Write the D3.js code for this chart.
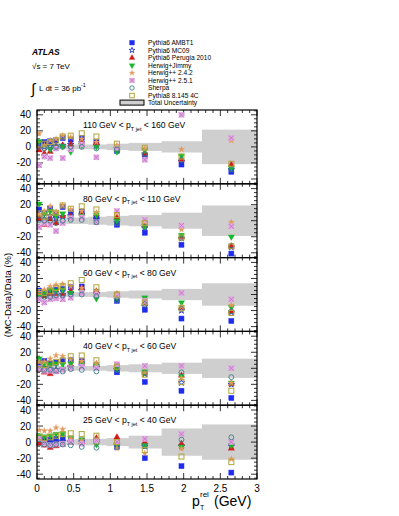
<!DOCTYPE html>
<html lang="en">
  <head>
    <meta charset="UTF-8" />
    <title>(MC-Data)/Data vs pTrel</title>
    <script src="https://d3js.org/d3.v7.min.js"></script>
    <style>
      body { margin: 0; background: #fff; }
      svg { display: block; font-family: "Liberation Sans", Arial, sans-serif; }
    </style>
  </head>
  <body>
    <div id="chart"></div>
    <script>
      // bin centres and edges in pTrel (GeV)
      const xCenters = [0.03, 0.1, 0.18, 0.26, 0.35, 0.46, 0.61, 0.81, 1.09, 1.47, 1.97, 2.65];
      const binEdges = [0, 0.065, 0.14, 0.22, 0.3, 0.4, 0.52, 0.7, 0.95, 1.25, 1.7, 2.25, 3.0];

      // panels, top to bottom
      const panelLabels = [
        ["110 GeV < p", "160 GeV"],
        ["80 GeV < p", "110 GeV"],
        ["60 GeV < p", "80 GeV"],
        ["40 GeV < p", "60 GeV"],
        ["25 GeV < p", "40 GeV"]
      ];

      // total uncertainty half width (%) per bin, per panel
      const bandHalf = [
        [3, 3, 3, 3, 3, 3, 3, 3, 4, 5, 7, 21.5],
        [4, 4, 4, 4, 4, 4, 4, 5, 6, 7, 10, 19],
        [3, 3, 3, 3, 3, 3, 3, 3, 4, 5, 7, 14],
        [3, 3, 3, 3, 3, 3, 3, 3, 4, 5, 7, 12],
        [3, 3, 3, 3, 3, 3, 4, 4, 5, 8, 17, 22]
      ];

      const yTicks = [-40, -20, 0, 20, 40];
      const xTicks = [0, 0.5, 1, 1.5, 2, 2.5, 3];

      // (MC-Data)/Data in %, per panel
      const ambt1 = [
        [5, 6, 7, 8, 11, 9, 11, 6, -5, -12, -22, -31],
        [14, 10, 15, 8, 17, 11, 11, 3, -5, -15, -30, -41],
        [5, 2, 5, 6, 7, 9, 10, 3, -8, -19, -30, -33],
        [7, 9, 6, 7, 9, 10, 9, 3, -5, -17, -28, -37],
        [5, 4, 3, 4, 5, 3, 2, 2, -6, -20, -30, -38]
      ];
      const mc09 = [
        [2, 0, 1, 1, 2, 3, 5, 2, -2, -9, -18, -28],
        [4, 2, 6, 3, 5, 6, 8, 2, -2, -9, -22, -33],
        [0, -2, -2, -1, 0, 2, 5, 1, -6, -15, -20, -22],
        [2, 1, -1, -2, -1, 2, 3, 1, -2, -7, -18, -20],
        [1, 0, -1, 0, 1, 0, 0, 0, -4, -5, -5, -5]
      ];
      const perugia = [
        [-4, -8, -6, 0, 2, 3, 6, 5, -3, -8, -16, -22],
        [3, -5, 2, -3, 6, 5, 9, 8, 4, -6, -20, -32],
        [0, -2, 1, -3, 1, 4, 8, 4, 0, -10, -16, -21],
        [-2, -5, -7, -4, -2, 4, 8, 5, 2, -6, -9, -19],
        [-2, -4, -7, -5, -3, -1, 0, 5, 6, 0, -2, -8]
      ];
      const jimmy = [
        [7, -11, -3, -1, 1, -6, 2, 0, -6, -4, -11, -26],
        [21, 9, 12, 6, 9, 4, 6, 7, 0, -7, -18, -20],
        [-2, 1, 6, 5, 6, 2, 3, -5, -4, -4, -10, -16],
        [12, 6, 5, 6, 5, 6, 6, 3, 0, -4, -10, -18],
        [8, 7, 8, 10, 10, 5, 3, -3, -3, -4, -6, -4]
      ];
      const herwig242 = [
        [17, 2, 8, 10, 14, 12, 10, 6, 2, -2, -3, 8],
        [8, 12, 18, 11, 19, 14, 12, 10, 9, -2, -11, -2],
        [3, 6, 10, 12, 13, 10, 8, 4, 1, -8, -15, -13],
        [8, 8, 12, 16, 15, 11, 9, 6, 5, -5, -12, -18],
        [15, 14, 14, 18, 16, 4, 2, 0, -8, -14, -8, -21]
      ];
      const herwig251 = [
        [-23, -12, -14, -2, -14, -3, 3, -13, -1, -16, 40, 11],
        [-8, -3, -5, -13, -3, 3, 4, -2, 12, 1, -6, -7],
        [-6, -10, -6, -5, -6, -4, 2, 0, -2, -8, 2, -6],
        [0, -3, -3, -4, -2, 0, 2, 0, 5, 3, 3, 0],
        [4, -2, -4, -3, -2, 0, -2, 2, 0, 4, 10, 0]
      ];
      const sherpa = [
        [0, -2, -1, 0, 0, 0, 0, -2, -3, -9, -16, -28],
        [1, 0, 0, -3, 0, 1, 1, -2, -3, -8, -22, -31],
        [0, -3, -3, -1, -1, 0, 0, -2, -7, -12, -18, -21],
        [-1, -2, -2, -3, -4, -1, -2, -4, -2, -6, -5, -11],
        [-2, -3, -4, -3, -3, -4, -6, -7, -6, -5, 3, 6]
      ];
      const pythia8 = [
        [3, 4, 6, 8, 13, 14, 17, 13, 4, -1, -12, -21],
        [9, 5, 10, 10, 19, 15, 18, 14, 7, -3, -21, -32],
        [3, 2, 4, 8, 10, 14, 18, 9, 0, -10, -17, -23],
        [5, 4, 6, 8, 10, 15, 16, 10, 2, -8, -17, -28],
        [6, 5, 6, 8, 10, 11, 10, 8, 0, -10, -18, -25]
      ];

      const seriesNames = [
        "Pythia6 AMBT1", "Pythia6 MC09", "Pythia6 Perugia 2010", "Herwig+Jimmy",
        "Herwig++ 2.4.2", "Herwig++ 2.5.1", "Sherpa", "Pythia8 8.145 4C"
      ];
      const seriesValues = [ambt1, mc09, perugia, jimmy, herwig242, herwig251, sherpa, pythia8];
      const seriesStyle = [
        { shape: "square", color: "#1f2cf0", fill: true },
        { shape: "star", color: "#2636c8", fill: false },
        { shape: "triUp", color: "#d41b1b", fill: true },
        { shape: "triDown", color: "#16b82a", fill: true },
        { shape: "star", color: "#e39a5e", fill: true },
        { shape: "xsquare", color: "#e2a8e2", fill: true },
        { shape: "circle", color: "#3f7f86", fill: false },
        { shape: "square", color: "#b2a43a", fill: false }
      ];

      const W = 399, H = 516;
      const plotL = 37, plotR = 257, plotT = 110, plotB = 479;
      const panelH = (plotB - plotT) / panelLabels.length;

      const svg = d3.select("#chart").append("svg")
        .attr("width", W).attr("height", H);

      const x = d3.scaleLinear().domain([0, 3]).range([plotL, plotR]);

      // draw one marker
      function marker(g, style, cx, cy, size) {
        const s = size;
        if (style.shape === "square" || style.shape === "xsquare") {
          g.append("rect")
            .attr("x", cx - s / 2).attr("y", cy - s / 2)
            .attr("width", s).attr("height", s)
            .attr("fill", style.fill ? style.color : "none")
            .attr("stroke", style.color)
            .attr("stroke-width", style.fill ? 0.5 : 1);
          if (style.shape === "xsquare") {
            g.append("path")
              .attr("d", `M${cx - s / 2},${cy - s / 2}L${cx + s / 2},${cy + s / 2}M${cx - s / 2},${cy + s / 2}L${cx + s / 2},${cy - s / 2}`)
              .attr("stroke", "#c070c8").attr("stroke-width", 0.8);
          }
        } else {
          let sym = d3.symbolCircle, rot = 0, area = s * s * 0.75;
          if (style.shape === "star") { sym = d3.symbolStar; area = s * s * 0.5; }
          if (style.shape === "triUp") { sym = d3.symbolTriangle; area = s * s * 0.7; }
          if (style.shape === "triDown") { sym = d3.symbolTriangle; rot = 180; area = s * s * 0.7; }
          g.append("path")
            .attr("d", d3.symbol().type(sym).size(area)())
            .attr("transform", `translate(${cx},${cy}) rotate(${rot})`)
            .attr("fill", style.fill ? style.color : "none")
            .attr("stroke", style.color)
            .attr("stroke-width", style.fill ? 0.3 : 0.9);
        }
      }

      panelLabels.forEach((lab, p) => {
        const y0 = plotT + p * panelH;
        const y = d3.scaleLinear().domain([-46, 46]).range([y0 + panelH, y0]);
        const g = svg.append("g");

        // uncertainty band
        g.selectAll("rect.band")
          .data(bandHalf[p])
          .join("rect")
          .attr("class", "band")
          .attr("x", (d, i) => x(binEdges[i]))
          .attr("width", (d, i) => x(binEdges[i + 1]) - x(binEdges[i]) + 0.3)
          .attr("y", (d) => y(d))
          .attr("height", (d) => y(-d) - y(d))
          .attr("fill", "#cfcfcf");

        // y ticks on both sides
        d3.range(-45, 46, 5).forEach((v) => {
          const len = v % 20 === 0 ? 6 : 3;
          g.append("line").attr("x1", plotL).attr("x2", plotL + len)
            .attr("y1", y(v)).attr("y2", y(v)).attr("stroke", "#000").attr("stroke-width", 0.8);
          g.append("line").attr("x1", plotR).attr("x2", plotR - len)
            .attr("y1", y(v)).attr("y2", y(v)).attr("stroke", "#000").attr("stroke-width", 0.8);
        });
        yTicks.forEach((v) => {
          g.append("text").attr("x", plotL - 6).attr("y", y(v) + 3.5)
            .attr("text-anchor", "end").attr("font-size", 10).text(v);
        });

        // x ticks on top and bottom of each panel
        d3.range(0, 3.001, 0.1).forEach((v) => {
          const major = Math.abs(v * 2 - Math.round(v * 2)) < 1e-6;
          const len = major ? 6 : 3;
          g.append("line").attr("x1", x(v)).attr("x2", x(v))
            .attr("y1", y0).attr("y2", y0 + len).attr("stroke", "#000").attr("stroke-width", 0.8);
          g.append("line").attr("x1", x(v)).attr("x2", x(v))
            .attr("y1", y0 + panelH).attr("y2", y0 + panelH - len).attr("stroke", "#000").attr("stroke-width", 0.8);
        });

        // panel label
        const t = g.append("text").attr("x", 83).attr("y", y0 + 18).attr("font-size", 8.6);
        t.append("tspan").text(lab[0]);
        t.append("tspan").attr("font-size", 5.5).attr("dy", 2.5).text("T jet");
        t.append("tspan").attr("dy", -2.5).text(" < " + lab[1]);

        // markers
        seriesValues.forEach((vals, si) => {
          const mg = g.append("g");
          vals[p].forEach((v, i) => {
            marker(mg, seriesStyle[si], x(xCenters[i]), y(v), 5);
          });
        });

        // frame
        g.append("rect").attr("x", plotL).attr("y", y0).attr("width", plotR - plotL).attr("height", panelH)
          .attr("fill", "none").attr("stroke", "#000").attr("stroke-width", 1.2);
      });

      // x tick labels
      xTicks.forEach((v) => {
        svg.append("text").attr("x", x(v)).attr("y", plotB + 13)
          .attr("text-anchor", "middle").attr("font-size", 10).text(v);
      });

      // x title: p_T^rel (GeV)
      svg.append("text").attr("x", 192).attr("y", 506).attr("font-size", 14).text("p");
      svg.append("text").attr("x", 200).attr("y", 497).attr("font-size", 8).text("rel");
      svg.append("text").attr("x", 200).attr("y", 510).attr("font-size", 7).text("T");
      svg.append("text").attr("x", 214).attr("y", 506).attr("font-size", 14).text("(GeV)");

      // y title
      svg.append("text")
        .attr("transform", "translate(11,295) rotate(-90)")
        .attr("text-anchor", "middle").attr("font-size", 9.5)
        .text("(MC-Data)/Data (%)");

      // ATLAS label block
      svg.append("text").attr("x", 32).attr("y", 55).attr("font-size", 8.5)
        .attr("font-weight", "bold").attr("font-style", "italic").text("ATLAS");
      svg.append("text").attr("x", 32).attr("y", 69).attr("font-size", 8).text("\u221As = 7 TeV");
      svg.append("text").attr("x", 31).attr("y", 94).attr("font-size", 15).text("\u222B");
      svg.append("text").attr("x", 39).attr("y", 91).attr("font-size", 8).text("L dt = 36 pb");
      svg.append("text").attr("x", 81).attr("y", 87).attr("font-size", 5.5).text("-1");

      // legend
      const legY0 = 45, legDy = 7.55;
      seriesNames.forEach((name, i) => {
        const yy = legY0 + i * legDy;
        marker(svg.append("g"), seriesStyle[i], 132, yy - 2.3, 4.5);
        svg.append("text").attr("x", 148).attr("y", yy).attr("font-size", 6.6).text(name);
      });
      const yb = legY0 + seriesNames.length * legDy;
      svg.append("rect").attr("x", 120).attr("y", yb - 5.3).attr("width", 24).attr("height", 5)
        .attr("fill", "#cfcfcf").attr("stroke", "#000").attr("stroke-width", 1);
      svg.append("text").attr("x", 148).attr("y", yb).attr("font-size", 6.6).text("Total Uncertainty");
    </script>
  </body>
</html>
